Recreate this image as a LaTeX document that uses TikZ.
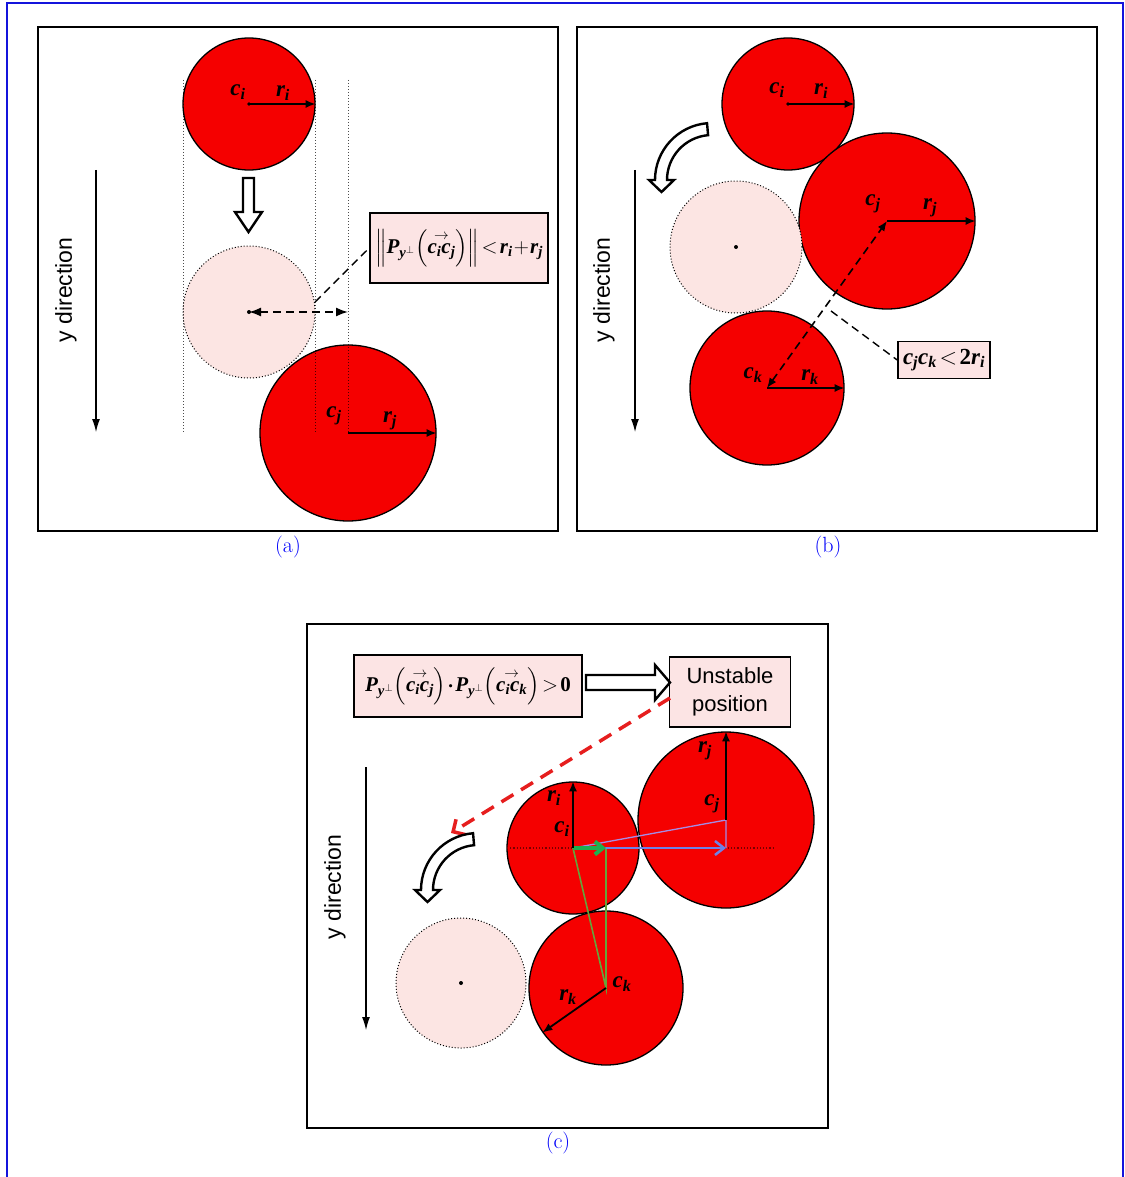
\RequirePackage{fix-cm}
\documentclass[tikz,border=0pt]{standalone}
\usepackage{amsmath}
\usepackage{fontspec}
\newfontfamily\tms{Liberation Serif}
\newfontfamily\ars{Liberation Sans}
\usetikzlibrary{arrows.meta}
\newcommand\bv[1]{\text{\tms\bfseries\itshape #1}}
\newcommand\bup[1]{\text{\tms\bfseries #1}}
\definecolor{redfill}{RGB}{245,0,0}
\definecolor{pale}{RGB}{252,229,227}
\definecolor{boxfill}{RGB}{252,228,228}
\definecolor{framebl}{RGB}{20,20,220}
\definecolor{capbl}{RGB}{0,0,250}
\definecolor{dred}{RGB}{230,30,30}
\definecolor{lav}{RGB}{165,140,230}
\definecolor{blu}{RGB}{110,130,230}
\definecolor{olive}{RGB}{100,165,60}
\definecolor{grn}{RGB}{30,175,80}
\definecolor{dotred}{RGB}{120,0,0}
\tikzset{
  disk/.style={circle, draw=black, line width=1.3pt, fill=redfill, inner sep=0pt},
  ghost/.style={circle, draw=black, dotted, line width=1pt, fill=pale, inner sep=0pt},
  panel/.style={draw=black, line width=2pt},
  lab/.style={font=\fontsize{23}{24}\selectfont, inner sep=0pt},
  rad/.style={-{Latex[length=10pt,width=8pt]}, line width=1.8pt},
  ydir/.style={-{Latex[length=13pt,width=8pt]}, line width=1.2pt},
  ytext/.style={rotate=90, font=\ars\fontsize{23}{25}\selectfont},
  formbox/.style={draw=black, line width=1.5pt, fill=boxfill, inner sep=2pt},
  captext/.style={text=capbl, font=\fontsize{22}{24}\selectfont},
  hollow/.style={fill=white, draw=black, line width=2.4pt, line join=miter},
  guide/.style={dotted, line width=1pt, opacity=0.7},
  dsh/.style={dash pattern=on 8pt off 5pt},
  curv/.pic={
    \draw[hollow] (-4.97,-56.78) arc[start angle=-95, end angle=-180, radius=57]
      -- (-63,0) -- (-50.5,12) -- (-38,0) -- (-45,0)
      arc[start angle=180, end angle=265, radius=45] -- cycle;
  }
}
\begin{document}
\begin{tikzpicture}[x=1pt,y=-1pt]
\useasboundingbox (0,0) rectangle (1124,1177);
% outer blue frame
\draw[framebl, line width=1.5pt] (7,1177) -- (7,3) -- (1123,3) -- (1123,1177);
% panel frames
\draw[panel] (38,27) rectangle (558,531);
\draw[panel] (577,27) rectangle (1097,531);
\draw[panel] (307,624) rectangle (828,1128);
% captions
\node[captext] (capa) at (288,547) {(a)};
\node[captext] (capb) at (828,547) {(b)};
\node[captext] (capc) at (558,1143) {(c)};

% ---------------- panel (a)
\node[disk, minimum size=132pt] (ai) at (249,104) {};
\node[ghost, minimum size=132pt] (ag) at (249,312) {};
\fill (ag.center) circle (2pt);
\node[disk, minimum size=176pt] (aj) at (348,433) {};
\draw[guide] (183,80) -- (183,432);
\draw[guide] (315,80) -- (315,432);
\draw[guide] (348,80) -- (348,432);
\draw[rad] (ai.center) -- (ai.east);
\draw[rad] (aj.center) -- (aj.east);
\fill (ai.center) circle (1.8pt);
\node[lab] (aci) at (238,92) {$\bv{c}_{\bv{i}}$};
\node[lab] (ari) at (283,93) {$\bv{r}_{\bv{i}}$};
\node[lab] (acj) at (334,416) {$\bv{c}_{\bv{j}}$};
\node[lab] (arj) at (390,421) {$\bv{r}_{\bv{j}}$};
\draw[hollow] (243,178) -- (254,178) -- (254,212) -- (262,212) -- (248.5,232) -- (235,212) -- (243,212) -- cycle;
\coordinate (aguide) at (348,312);
\draw[dsh, line width=1.6pt, {Latex[length=12pt,width=9pt]}-{Latex[length=12pt,width=9pt]}] (ag.center) -- (aguide);
\node[formbox, minimum width=178pt, minimum height=70pt, font=\fontsize{21}{24}\selectfont] (abox) at (459,248)
  {$\left\|\bv{P}_{\bv{y}^{\perp}}\!\left(\overset{\rightarrow}{\bv{c}_{\bv{i}}\bv{c}_{\bv{j}}}\right)\right\|\!<\!\bv{r}_{\bv{i}}\!+\!\bv{r}_{\bv{j}}$};
\coordinate (adash) at (315,302);
\draw[dsh, line width=1.4pt] (adash) -- (abox.west);
\draw[ydir] (96,170) -- (96,432);
\node[ytext] (ayt) at (66,290) {y direction};

% ---------------- panel (b)
\node[disk, minimum size=132pt] (bi) at (788,104) {};
\node[disk, minimum size=176pt] (bj) at (887,221) {};
\node[ghost, minimum size=132pt] (bg) at (736,247) {};
\fill (bg.center) circle (2pt);
\node[disk, minimum size=154pt] (bk) at (767,388) {};
\draw[rad] (bi.center) -- (bi.east);
\draw[rad] (bj.center) -- (bj.east);
\draw[rad] (bk.center) -- (bk.east);
\fill (bi.center) circle (1.8pt);
\draw[dsh, line width=1.6pt, {Latex[length=10pt,width=8pt]}-{Latex[length=10pt,width=8pt]}] (bk.center) -- (bj.center);
\node[lab] (bci) at (777,90) {$\bv{c}_{\bv{i}}$};
\node[lab] (bri) at (821,91) {$\bv{r}_{\bv{i}}$};
\node[lab] (bcj) at (873,204) {$\bv{c}_{\bv{j}}$};
\node[lab] (brj) at (930,208) {$\bv{r}_{\bv{j}}$};
\node[lab] (bck) at (753,375) {$\bv{c}_{\bv{k}}$};
\node[lab] (brk) at (810,377) {$\bv{r}_{\bv{k}}$};
\node[formbox, minimum width=92pt, minimum height=37pt, font=\fontsize{23}{24}\selectfont] (bbox) at (944,360)
  {$\bv{c}_{\bv{j}}\bv{c}_{\bv{k}}\!<\!\bup{2}\bv{r}_{\bv{i}}$};
\coordinate (bdash) at (831,311);
\draw[dsh, line width=1.4pt] (bdash) -- (bbox.west);
\pic (bcurv) at (712,180) {curv};
\draw[ydir] (635,170) -- (635,432);
\node[ytext] (byt) at (604,290) {y direction};

% ---------------- panel (c)
\node[formbox, minimum width=228pt, minimum height=62pt, font=\fontsize{21}{24}\selectfont] (cbox) at (468,686)
  {$\bv{P}_{\bv{y}^{\perp}}\!\left(\overset{\rightarrow}{\bv{c}_{\bv{i}}\bv{c}_{\bv{j}}}\right)\!\boldsymbol{\cdot}\!\bv{P}_{\bv{y}^{\perp}}\!\left(\overset{\rightarrow}{\bv{c}_{\bv{i}}\bv{c}_{\bv{k}}}\right)\!>\!\bup{0}$};
\node[formbox, minimum width=121pt, minimum height=70pt, align=center, font=\ars\fontsize{22}{28}\selectfont] (cun) at (730,692) {Unstable\\position};
\draw[hollow] (586,675) -- (655,675) -- (655,665) -- (670,682.5) -- (655,700) -- (655,690) -- (586,690) -- cycle;
\node[ghost, minimum size=130pt] (cg) at (461,983) {};
\fill (cg.center) circle (2pt);
\node[disk, minimum size=154pt] (ck) at (606,988) {};
\node[disk, minimum size=132pt] (ci) at (573,848) {};
\node[disk, minimum size=176pt] (cj) at (726,820) {};
\draw[dotted, dotred, line width=1.2pt] (507,848) -- (773,848);
\coordinate (cjb) at (726,848);
\coordinate (ckt) at (606,848);
\draw[olive, line width=1.6pt] (ci.center) -- (ck.center) -- (ckt);
\draw[lav, line width=1.3pt] (ci.center) -- (cj.center) -- (cjb);
\draw[blu, line width=2.5pt, -{Straight Barb[length=9pt,width=14pt]}] (ci.center) -- (cjb);
\draw[grn, line width=4pt, -{Straight Barb[length=8pt,width=13pt]}] (ci.center) -- (ckt);
\draw[rad] (ci.center) -- (ci.north);
\draw[rad] (cj.center) -- (cj.north);
\draw[rad] (ck.center) -- (ck.215);
\node[lab] (cri) at (554,798) {$\bv{r}_{\bv{i}}$};
\node[lab] (cci) at (562,829) {$\bv{c}_{\bv{i}}$};
\node[lab] (crj) at (705,751) {$\bv{r}_{\bv{j}}$};
\node[lab] (ccj) at (712,804) {$\bv{c}_{\bv{j}}$};
\node[lab] (cck) at (622,984) {$\bv{c}_{\bv{k}}$};
\node[lab] (crk) at (568,997) {$\bv{r}_{\bv{k}}$};
\coordinate (credA) at (670,698);
\coordinate (credB) at (451,833);
\draw[dred, dash pattern=on 14pt off 9pt, line width=3.5pt, -{Straight Barb[length=9pt,width=18pt]}] (credA) -- (credB);
\pic (ccurv) at (478,890) {curv};
\draw[ydir] (366,767) -- (366,1030);
\node[ytext] (cyt) at (335,887) {y direction};
\end{tikzpicture}
\end{document}
